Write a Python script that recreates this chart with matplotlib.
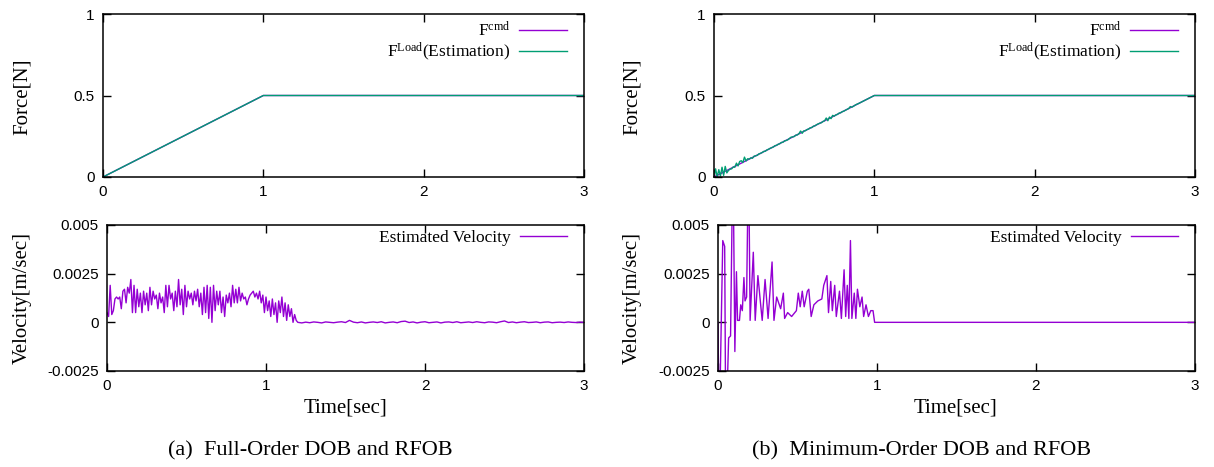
import matplotlib
matplotlib.use("Agg")
import matplotlib.pyplot as plt
import numpy as np

plt.rcParams['font.family'] = ['Liberation Sans', 'DejaVu Sans']
plt.rcParams['mathtext.fontset'] = 'custom'
plt.rcParams['mathtext.rm'] = 'Liberation Serif'
plt.rcParams['mathtext.it'] = 'Liberation Serif:italic'

# ---------- data ----------
# force command: ramp then hold
f_cmd_t = [0.0, 1.0, 3.0]
f_cmd = [0.0, 0.5, 0.5]

# (a) full-order estimate follows the command
fa_est_t = [0.0, 1.0, 3.0]
fa_est = [0.0, 0.5, 0.5]

# (b) minimum-order estimate, sampled every 0.01 s during the ramp
fb_est_ramp = [0.000, 0.050, 0.000, 0.045, 0.005, 0.060, 0.010, 0.065, 0.025, 0.040,
               0.048, 0.050, 0.062, 0.060, 0.085, 0.068, 0.095, 0.100, 0.088, 0.122,
               0.098, 0.112, 0.110, 0.118, 0.115, 0.128, 0.130, 0.133, 0.142, 0.145,
               0.150, 0.157, 0.158, 0.166, 0.170, 0.176, 0.180, 0.184, 0.192, 0.194,
               0.201, 0.204, 0.212, 0.213, 0.222, 0.224, 0.228, 0.236, 0.244, 0.246,
               0.248, 0.257, 0.258, 0.266, 0.282, 0.268, 0.283, 0.284, 0.291, 0.294,
               0.302, 0.303, 0.312, 0.314, 0.321, 0.326, 0.330, 0.333, 0.341, 0.345,
               0.362, 0.345, 0.368, 0.358, 0.378, 0.373, 0.381, 0.384, 0.392, 0.394,
               0.401, 0.404, 0.410, 0.415, 0.420, 0.432, 0.428, 0.434, 0.441, 0.446,
               0.450, 0.455, 0.460, 0.465, 0.470, 0.475, 0.480, 0.485, 0.490, 0.495,
               0.500]
fb_est_t = list(np.round(np.arange(0, 1.001, 0.01), 2)) + [3.0]
fb_est = fb_est_ramp + [0.5]

# (a) estimated velocity [x1e-3 m/s], 0.01 s steps up to 1.2 s
va_head = [0.5, 0.3, 1.9, 0.4, 0.6, 1.2, 1.3, 1.2, 1.3, 0.7,
           1.6, 1.7, 1.0, 1.8, 1.5, 2.2, 0.5, 1.9, 0.5, 1.7,
           0.8, 1.5, 0.5, 1.6, 0.9, 1.5, 0.6, 1.8, 0.9, 1.6,
           1.2, 1.4, 0.7, 1.5, 1.0, 1.3, 0.5, 1.9, 0.8, 1.9,
           1.2, 1.5, 0.6, 1.6, 0.8, 2.2, 0.9, 1.7, 0.4, 1.9,
           0.8, 1.6, 1.2, 1.5, 0.9, 1.6, 1.1, 1.7, 0.8, 1.5,
           0.4, 1.8, 0.5, 1.9, 0.2, 1.8, 0.0, 1.9, 0.6, 1.6,
           0.9, 1.6, 0.5, 1.3, 0.3, 1.4, 1.0, 1.5, 0.8, 1.9,
           1.0, 1.7, 1.0, 1.8, 1.1, 1.5, 1.2, 1.3, 0.9, 1.2,
           1.4, 1.5, 1.6, 1.3, 1.5, 1.2, 1.6, 1.0, 1.4, 0.5,
           1.3, 0.6, 1.1, 0.3, 1.2, 0.4, 1.0, 0.0, 1.1, 0.5,
           1.3, 0.3, 1.0, 0.1, 0.9, 0.3, 0.7, 0.0, 0.4, 0.1,
           0.0]
# after 1.2 s, 0.025 s steps (1.225 .. 3.0)
va_tail = [-0.03, 0.01, -0.02, 0.02, 0.0, -0.03, 0.02, 0.0, -0.02, 0.01,
           0.03, -0.01, 0.10, 0.01, -0.02, 0.02, -0.03, 0.0, 0.02, -0.01,
           0.03, -0.03, 0.0, 0.02, -0.02, 0.04, 0.06, -0.01, 0.02, -0.03,
           0.01, 0.03, -0.02, 0.0, 0.02, -0.03, 0.01, 0.02, -0.01, 0.03,
           -0.02, 0.0, 0.02, -0.01, 0.03, 0.0, -0.02, 0.02, 0.01, -0.02,
           0.03, 0.07, -0.01, 0.02, -0.02, 0.01, 0.03, -0.01, 0.0, 0.02,
           -0.02, 0.01, 0.02, -0.02, 0.0, 0.01, -0.01, 0.02, 0.0, -0.01,
           0.01, 0.0]
va_t = list(np.round(np.arange(0, 1.201, 0.01), 3)) + list(np.round(np.arange(1.225, 3.001, 0.025), 3))
va = np.array(va_head + va_tail) * 1e-3

# (b) estimated velocity
vb_t = [0.0, 0.007, 0.030, 0.042, 0.049, 0.067, 0.079, 0.094, 0.106, 0.116,
        0.123, 0.135, 0.143, 0.153, 0.163, 0.170, 0.180, 0.192, 0.202, 0.222,
        0.234, 0.251, 0.266, 0.278, 0.296, 0.315, 0.340, 0.352, 0.369, 0.394,
        0.411, 0.419, 0.438, 0.463, 0.493, 0.505, 0.517, 0.530, 0.542, 0.562,
        0.571, 0.586, 0.603, 0.628, 0.653, 0.665, 0.685, 0.695, 0.709, 0.719,
        0.734, 0.744, 0.764, 0.776, 0.793, 0.803, 0.813, 0.823, 0.833, 0.842,
        0.857, 0.867, 0.877, 0.892, 0.906, 0.916, 0.931, 0.946, 0.961, 0.975,
        0.985, 3.0]
vb = [0.0, -6.0, 4.2, 3.9, -6.0, -0.8, -0.7, 9.0, -1.5, 2.6,
      0.1, 0.1, 0.9, 0.6, 2.3, 1.1, 1.3, 9.0, 0.1, 3.6,
      0.1, 2.4, 1.1, 0.1, 2.2, 0.2, 3.1, 0.1, 1.3, 0.7,
      1.5, 0.2, 0.5, 0.3, 0.6, 1.5, 0.8, 1.6, 0.8, 1.6,
      1.7, 0.3, 0.9, 1.1, 1.2, 1.9, 2.4, 0.5, 2.1, 0.6,
      1.9, 0.3, 1.6, 0.2, 2.7, 0.3, 1.9, 0.2, 4.2, 0.2,
      1.5, 0.2, 1.7, 0.8, 1.3, 0.3, 0.9, 0.3, 0.6, 0.6,
      0.0, 0.0]
vb = np.array(vb) * 1e-3

purple = '#9400D3'
green = '#009E73'
serif = ['Liberation Serif', 'DejaVu Serif']

fig = plt.figure(figsize=(12.14, 4.67), dpi=100)
W, H = 1214.0, 467.0

def box(l, t, r, b):
    return [l / W, 1 - b / H, (r - l) / W, (b - t) / H]

ax_fa = fig.add_axes(box(103, 14, 584, 177))
ax_va = fig.add_axes(box(107, 225, 584, 371))
ax_fb = fig.add_axes(box(714, 14, 1195, 177))
ax_vb = fig.add_axes(box(718, 225, 1195, 371))

def style(ax):
    ax.set_xlim(0, 3)
    ax.set_xticks([0, 1, 2, 3])
    ax.set_xticklabels(['0', '1', '2', '3'])
    ax.tick_params(direction='in', top=True, right=True, length=6, width=1,
                   labelsize=11, pad=6)
    for s in ax.spines.values():
        s.set_linewidth(1.1)

for ax, est_t, est in [(ax_fa, fa_est_t, fa_est), (ax_fb, fb_est_t, fb_est)]:
    ax.plot(f_cmd_t, f_cmd, color=purple, lw=1.0, label=r'F$^{\rm cmd}$')
    ax.plot(est_t, est, color=green, lw=1.0, label=r'F$^{\rm Load}$(Estimation)')
    style(ax)
    ax.set_ylim(0, 1)
    ax.set_yticks([0, 0.5, 1])
    ax.set_yticklabels(['0', '0.5', '1'])
    ax.legend(loc='upper right', bbox_to_anchor=(0.965, 0.955), markerfirst=False,
              frameon=False, handlelength=2.75, handletextpad=0.5,
              labelspacing=0.0, borderpad=0, borderaxespad=0,
              prop={'family': serif, 'size': 12.5})

for ax, t, v in [(ax_va, va_t, va), (ax_vb, vb_t, vb)]:
    ax.plot(t, v, color=purple, lw=1.0, label='Estimated Velocity')
    style(ax)
    ax.set_ylim(-0.0025, 0.005)
    ax.set_yticks([-0.0025, 0, 0.0025, 0.005])
    ax.set_yticklabels(['-0.0025', '0', '0.0025', '0.005'])
    ax.legend(loc='upper right', bbox_to_anchor=(0.965, 0.965), markerfirst=False,
              frameon=False, handlelength=2.75, handletextpad=0.5,
              borderpad=0, borderaxespad=0,
              prop={'family': serif, 'size': 12.5})

for x in (22, 632):
    fig.text(x / W, 1 - 97 / H, 'Force[N]', rotation=90, ha='center', va='center',
             family=serif, fontsize=15)
    fig.text(x / W, 1 - 298 / H, 'Velocity[m/sec]', rotation=90, ha='center', va='center',
             family=serif, fontsize=15)

fig.text(345 / W, 1 - 408 / H, 'Time[sec]', ha='center', va='center', family=serif, fontsize=15)
fig.text(956 / W, 1 - 408 / H, 'Time[sec]', ha='center', va='center', family=serif, fontsize=15)

fig.text(310 / W, 1 - 451 / H, '(a)  Full-Order DOB and RFOB', ha='center', va='center',
         family=serif, fontsize=16)
fig.text(922 / W, 1 - 451 / H, '(b)  Minimum-Order DOB and RFOB', ha='center', va='center',
         family=serif, fontsize=16)

fig.savefig('out.png', dpi=100)
